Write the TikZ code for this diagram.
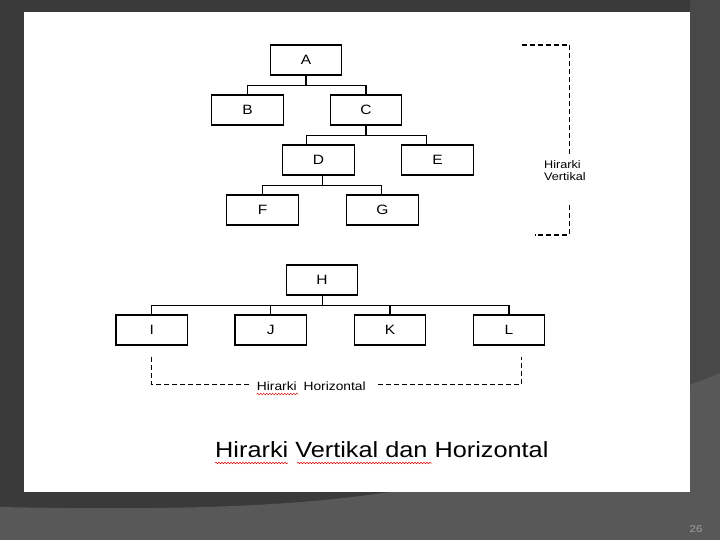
\documentclass[tikz,border=0pt]{standalone}
\usepackage{fontspec}
\setmainfont{Liberation Sans}[FakeStretch=1.15]
\usetikzlibrary{decorations.pathmorphing}
\definecolor{bgdark}{HTML}{3A3A3A}
\definecolor{bgstrip}{HTML}{484848}
\definecolor{bglight}{HTML}{585858}
\definecolor{pagenum}{HTML}{A0A0A0}
\tikzset{
  box/.style={draw=black, line width=1.2bp, minimum width=71.5bp, minimum height=30bp, inner sep=0pt, fill=white,
    font=\fontsize{13.5bp}{16bp}\selectfont},
  link/.style={draw=black, line width=1.2bp},
  bracket/.style={draw=black, line width=1.3bp, dash pattern=on 5bp off 3bp},
  squiggle/.style={draw=red!85!black, line width=0.5bp, decorate, decoration={snake, amplitude=0.8bp, segment length=3bp}}
}
\begin{document}
\begin{tikzpicture}[x=1bp,y=-1bp]
\useasboundingbox (0,0) rectangle (720,540);
% background
\fill[bgdark] (0,0) rectangle (720,540);
\fill[bgstrip] (690,0) rectangle (720,540);
\fill[bglight] (0,507) .. controls (200,511) and (300,505) .. (390,492) -- (690,385) -- (720,373) -- (720,540) -- (0,540) -- cycle;
\fill[white] (24,12) rectangle (690,492);
% vertical hierarchy
\node[box] (A) at (306,60) {A};
\node[box] (B) at (247.5,110) {B};
\node[box] (C) at (366,110) {C};
\node[box] (D) at (318.5,160) {D};
\node[box] (E) at (437.5,160) {E};
\node[box] (F) at (262.5,210) {F};
\node[box] (G) at (382.5,210) {G};
\draw[link] (A.south) -- ++(0,10) coordinate (a1);
\draw[link] (B.north) |- (a1) -| (C.north);
\draw[link] (C.south) -- ++(0,10) coordinate (c1);
\draw[link] ([xshift=-12bp]D.north) |- (c1) -| ([xshift=-11bp]E.north);
\draw[link] ([xshift=4bp]D.south) -- ++(0,10) coordinate (d1);
\draw[link] (F.north) |- (d1) -| ([xshift=-1bp]G.north);
% horizontal hierarchy
\node[box] (H) at (322,280) {H};
\node[box] (I) at (151.7,330) {I};
\node[box] (J) at (270.8,330) {J};
\node[box] (K) at (390,330) {K};
\node[box] (L) at (509,330) {L};
\draw[link] ([xshift=0.7bp]H.south) -- ++(0,10) coordinate (h1);
\draw[link] (I.north) |- (h1) -| (L.north);
\draw[link] (J.north) -- (J.north |- h1);
\draw[link] (K.north) -- (K.north |- h1);
% vertical bracket
\node[anchor=base west, align=left, inner sep=0pt, font=\fontsize{11bp}{12bp}\selectfont] (vlab) at (544,181) {Hirarki\\Vertikal};
\coordinate (vt) at (521.7,45);
\coordinate (vtr) at (569.3,45);
\coordinate (vbr) at (569.3,235);
\coordinate (vb) at (535,235);
\draw[bracket] (vt) -- (vtr) -- (vtr |- 0,155);
\draw[bracket] (vbr |- 0,205) -- (vbr) -- (vb);
% horizontal bracket
\node[anchor=base west, inner sep=0pt, font=\fontsize{12bp}{14bp}\selectfont] (hlab) at (256.7,390) {Hirarki\hspace{3bp} Horizontal};
\coordinate (hl) at (151.7,356.7);
\coordinate (hr) at (521.7,356.7);
\draw[bracket] (hl) -- (151.7,384.3) -- (251.7,384.3);
\draw[bracket] (378.3,384.3) -- (521.7,384.3) -- (hr);
\draw[squiggle] (256.7,394) -- (298.3,394);
% title
\node[anchor=base west, inner sep=0pt, font=\fontsize{22bp}{26bp}\selectfont] (title) at (215,457.3) {Hirarki Vertikal dan Horizontal};
\draw[squiggle] (215,463) -- (288,463);
\draw[squiggle] (297,463) -- (432,463);
% page number
\node[text=pagenum, inner sep=0pt, font=\fontsize{10bp}{12bp}\selectfont] (pg) at (696,528.7) {26};
\end{tikzpicture}
\end{document}
